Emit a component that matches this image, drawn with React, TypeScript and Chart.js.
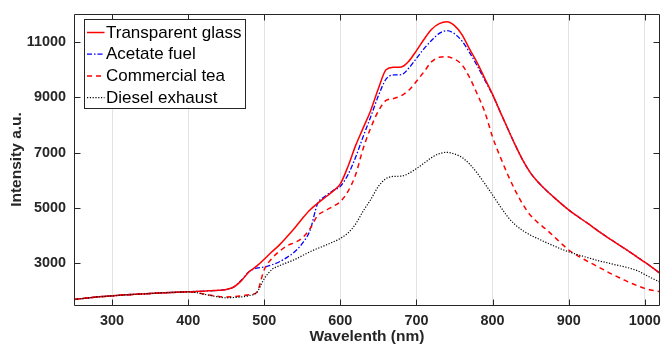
import React, { useEffect, useRef } from 'react';
import { Chart, registerables } from 'chart.js';

Chart.register(...registerables);

const wavelengths = [
  250, 260, 270, 280, 290, 300, 310, 320, 330, 340, 350, 360, 370, 380, 390, 400,
  410, 420, 430, 440, 450, 460, 470, 480, 490, 500, 510, 520, 530, 540, 550, 560,
  570, 580, 590, 600, 610, 620, 630, 640, 650, 660, 670, 680, 690, 700, 710, 720,
  730, 740, 750, 760, 770, 780, 790, 800, 810, 820, 830, 840, 850, 860, 870, 880,
  890, 900, 910, 920, 930, 940, 950, 960, 970, 980, 990, 1000, 1010, 1020,
];

const transparentGlass = [
  1700, 1730, 1760, 1790, 1810, 1830, 1850, 1870, 1885, 1900, 1915, 1930, 1945, 1955, 1965, 1975,
  1990, 2000, 2015, 2030, 2060, 2150, 2380, 2700, 2900, 3150, 3420, 3670, 3970, 4280, 4620, 4930,
  5170, 5380, 5600, 5870, 6500, 7250, 7890, 8530, 9310, 9990, 10080, 10090, 10300, 10680, 11090, 11450,
  11650, 11720, 11580, 11250, 10720, 10230, 9660, 9100, 8470, 7860, 7260, 6710, 6260, 5930, 5650, 5400,
  5160, 4930, 4730, 4540, 4350, 4150, 3960, 3780, 3600, 3420, 3230, 3045, 2850, 2640,
];

const acetateFuel = [
  1700, 1730, 1760, 1790, 1810, 1830, 1850, 1870, 1885, 1900, 1915, 1930, 1945, 1955, 1965, 1975,
  1990, 2000, 2015, 2030, 2060, 2150, 2400, 2700, 2830, 2870, 2950, 3060, 3220, 3420, 3720, 4180,
  5150, 5420, 5620, 5780, 6200, 6830, 7580, 8300, 9050, 9650, 9800, 9810, 10050, 10400, 10750, 11050,
  11300, 11400, 11290, 11020, 10600, 10120, 9600, 9080, 8470, 7860, 7260, 6710, 6260, 5930, 5650, 5400,
  5160, 4930, 4730, 4540, 4350, 4150, 3960, 3780, 3600, 3420, 3230, 3045, 2850, 2640,
];

const commercialTea = [
  1700, 1730, 1760, 1790, 1810, 1830, 1850, 1870, 1885, 1900, 1915, 1930, 1945, 1955, 1965, 1975,
  1960, 1900, 1850, 1810, 1790, 1800, 1830, 1870, 1950, 2780, 3180, 3440, 3640, 3750, 3920, 4250,
  4720, 4900, 5050, 5230, 5600, 6200, 7150, 7900, 8500, 8880, 8950, 9050, 9250, 9570, 9920, 10280,
  10440, 10460, 10370, 10160, 9700, 9100, 8450, 7560, 6850, 6200, 5620, 5120, 4730, 4460, 4240, 3990,
  3730, 3485, 3310, 3150, 3000, 2860, 2710, 2570, 2440, 2310, 2200, 2100, 2030, 1980,
];

const dieselExhaust = [
  1700, 1730, 1760, 1790, 1810, 1830, 1850, 1870, 1885, 1900, 1915, 1930, 1945, 1955, 1965, 1975,
  1950, 1890, 1840, 1790, 1760, 1770, 1790, 1840, 1950, 2450, 2780, 2920, 3030, 3140, 3280, 3420,
  3540, 3650, 3770, 3900, 4100, 4420, 4890, 5310, 5780, 6060, 6140, 6150, 6250, 6420, 6620, 6820,
  6960, 7010, 6950, 6820, 6580, 6250, 5870, 5470, 5060, 4680, 4390, 4180, 4020, 3890, 3760, 3640,
  3520, 3420, 3330, 3250, 3170, 3090, 3030, 2960, 2900, 2830, 2740, 2600, 2460, 2330,
];

const seriesNames = ['Transparent glass', 'Acetate fuel', 'Commercial tea', 'Diesel exhaust'];
const xTicks = [300, 400, 500, 600, 700, 800, 900, 1000];
const yTicks = [3000, 5000, 7000, 9000, 11000];

const FONT = '"Liberation Sans", Arial, Helvetica, sans-serif';
const INK = '#262626';

const styles = [
  { color: '#ff0000', width: 1.5, dash: [] as number[] },
  { color: '#0000ff', width: 1.3, dash: [5, 2, 1.5, 2] },
  { color: '#ff0000', width: 1.5, dash: [5, 4] },
  { color: '#000000', width: 1.2, dash: [1.2, 1.6] },
];

const frameLegendPlugin = {
  id: 'frameLegend',
  afterDatasetsDraw(chart: any) {
    const { ctx, chartArea, scales } = chart;
    const { left, right, top, bottom } = chartArea;
    const L = Math.round(left) + 0.5;
    const R = Math.round(right) - 0.5;
    const T = Math.round(top) + 0.5;
    const B = Math.round(bottom) + 0.5;
    ctx.save();
    ctx.strokeStyle = INK;
    ctx.lineWidth = 1;
    ctx.setLineDash([]);
    ctx.beginPath();
    ctx.moveTo(L, T);
    ctx.lineTo(R, T);
    ctx.lineTo(R, B);
    ctx.lineTo(L, B);
    ctx.closePath();
    const tl = 6;
    xTicks.forEach((v) => {
      const px = Math.round(scales.x.getPixelForValue(v)) + 0.5;
      ctx.moveTo(px, B);
      ctx.lineTo(px, B - tl);
      ctx.moveTo(px, T);
      ctx.lineTo(px, T + tl);
    });
    yTicks.forEach((v) => {
      const py = Math.round(scales.y.getPixelForValue(v)) + 0.5;
      ctx.moveTo(L, py);
      ctx.lineTo(L + tl, py);
      ctx.moveTo(R, py);
      ctx.lineTo(R - tl, py);
    });
    ctx.stroke();

    // legend
    const bx = left + 10.5;
    const by = top + 5.5;
    const bw = 161;
    const bh = 89;
    ctx.fillStyle = '#ffffff';
    ctx.fillRect(bx, by, bw, bh);
    ctx.strokeStyle = INK;
    ctx.lineWidth = 1;
    ctx.strokeRect(bx, by, bw, bh);
    ctx.font = `17px ${FONT}`;
    ctx.textBaseline = 'middle';
    ctx.textAlign = 'left';
    seriesNames.forEach((name, i) => {
      const cy = by + 13 + i * 21.7;
      const st = styles[i];
      ctx.strokeStyle = st.color;
      ctx.lineWidth = st.width;
      ctx.setLineDash(st.dash);
      ctx.beginPath();
      ctx.moveTo(bx + 2.5, cy);
      ctx.lineTo(bx + 20, cy);
      ctx.stroke();
      ctx.setLineDash([]);
      ctx.fillStyle = '#000000';
      ctx.fillText(name, bx + 21.5, cy + 0.5);
    });
    ctx.restore();
  },
};

export default function App() {
  const canvasRef = useRef<HTMLCanvasElement | null>(null);

  useEffect(() => {
    const canvas = canvasRef.current;
    if (!canvas) return;
    const seriesValues = [transparentGlass, acetateFuel, commercialTea, dieselExhaust];
    const datasets = seriesValues.map((vals, i) => ({
      label: seriesNames[i],
      data: wavelengths.map((w, j) => ({ x: w, y: vals[j] })),
      borderColor: styles[i].color,
      backgroundColor: styles[i].color,
      borderWidth: styles[i].width,
      borderDash: styles[i].dash,
      pointRadius: 0,
      cubicInterpolationMode: 'monotone' as const,
      fill: false,
    }));
    // draw order: diesel at back, glass below fuel
    const ordered = [datasets[3], datasets[2], datasets[0], datasets[1]];
    const chart = new Chart(canvas, {
      type: 'line',
      data: { datasets: ordered },
      options: {
        responsive: false,
        animation: false,
        events: [],
        layout: { padding: { top: 14, right: 1, left: 0, bottom: 0 } },
        plugins: { legend: { display: false }, tooltip: { enabled: false } },
        scales: {
          x: {
            type: 'linear',
            min: 250,
            max: 1020,
            afterBuildTicks: (s: any) => {
              s.ticks = xTicks.map((v) => ({ value: v }));
            },
            afterFit: (s: any) => {
              s.height = 42;
              s.paddingLeft = 0;
              s.paddingRight = 0;
            },
            grid: { display: true, color: '#e3e3e3', lineWidth: 1, drawTicks: false },
            border: { display: false },
            ticks: {
              padding: 7,
              color: INK,
              font: { family: FONT, size: 14.4, weight: 'bold' },
              maxRotation: 0,
              autoSkip: false,
              callback: (v: any) => String(v),
            },
            title: {
              display: true,
              text: 'Wavelenth (nm)',
              color: INK,
              font: { family: FONT, size: 15.5, weight: 'bold' },
              padding: { top: 0, bottom: 1 },
            },
          },
          y: {
            type: 'linear',
            min: 1500,
            max: 12000,
            afterBuildTicks: (s: any) => {
              s.ticks = yTicks.map((v) => ({ value: v }));
            },
            afterFit: (s: any) => {
              s.width = 74;
              s.paddingTop = 0;
              s.paddingBottom = 0;
            },
            grid: { display: false, drawTicks: false },
            border: { display: false },
            ticks: {
              padding: 8,
              color: INK,
              font: { family: FONT, size: 14.4, weight: 'bold' },
              autoSkip: false,
              callback: (v: any) => String(v),
            },
            title: {
              display: true,
              text: 'Intensity a.u.',
              color: INK,
              font: { family: FONT, size: 15.5, weight: 'bold' },
              padding: { top: 7, bottom: 0 },
            },
          },
        },
      },
      plugins: [frameLegendPlugin],
    });
    return () => chart.destroy();
  }, []);

  return (
    <div style={{ position: 'fixed', left: 0, top: 0, width: 661, height: 347, background: '#ffffff' }}>
      <canvas ref={canvasRef} width={661} height={347} style={{ display: 'block', width: 661, height: 347 }} />
    </div>
  );
}
